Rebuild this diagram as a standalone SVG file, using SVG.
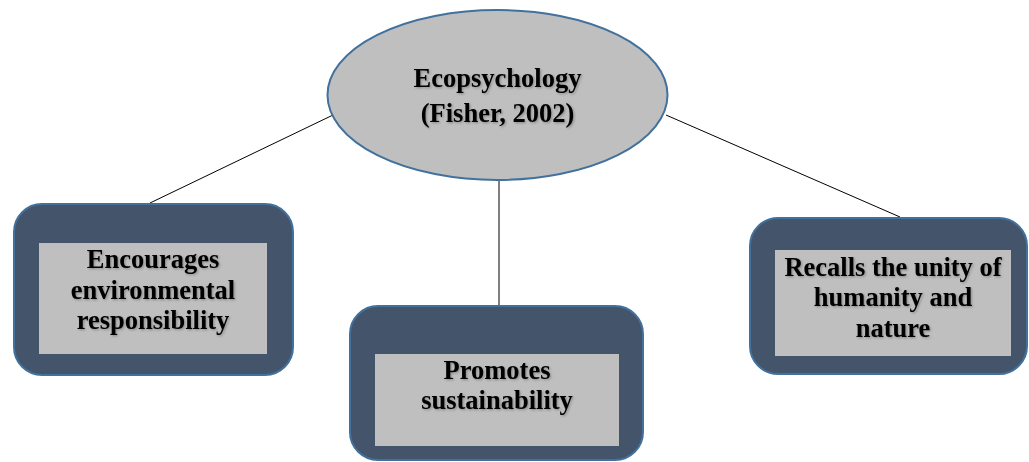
<svg xmlns="http://www.w3.org/2000/svg" width="1029" height="462" viewBox="0 0 1029 462">
  <defs>
    <filter id="txtShadow" x="-10%" y="-10%" width="120%" height="130%">
      <feDropShadow dx="1.2" dy="1.2" stdDeviation="0.8" flood-color="#000" flood-opacity="0.28"/>
    </filter>
  </defs>
  <style>
    .link { stroke: #000; stroke-width: 1; fill: none; }
    .outer { fill: #44546A; stroke: #41719C; stroke-width: 2; }
    .inner { fill: #BFBFBF; stroke: none; }
    .hub { fill: #BFBFBF; stroke: #41719C; stroke-width: 2; }
    .label { font-family: "Liberation Serif", "Times New Roman", serif; font-weight: bold; font-size: 26.5px; fill: #000; text-anchor: middle; filter: url(#txtShadow); }
  </style>
  <rect width="1029" height="462" fill="#fff"/>

  <!-- connectors from the hub to each branch -->
  <g id="connectors">
    <line class="link" x1="333" y1="115" x2="150" y2="203"/>
    <line class="link" x1="499" y1="180" x2="499" y2="305"/>
    <line class="link" x1="666" y1="115" x2="900" y2="217"/>
  </g>

  <g id="hub">
    <ellipse class="hub" cx="497.5" cy="95" rx="170" ry="85"/>
    <text class="label" x="497.5" y="87">Ecopsychology</text>
    <text class="label" x="497.5" y="122">(Fisher, 2002)</text>
  </g>

  <g id="responsibility">
    <rect class="outer" x="14" y="204" width="279" height="171" rx="28"/>
    <rect class="inner" x="39" y="243" width="228" height="111"/>
    <text class="label" x="153" y="268">Encourages</text>
    <text class="label" x="153" y="299">environmental</text>
    <text class="label" x="153" y="329">responsibility</text>
  </g>

  <g id="sustainability">
    <rect class="outer" x="350" y="306" width="293" height="154" rx="28"/>
    <rect class="inner" x="375" y="354" width="244" height="92"/>
    <text class="label" x="497" y="379">Promotes</text>
    <text class="label" x="497" y="409">sustainability</text>
  </g>

  <g id="unity">
    <rect class="outer" x="750" y="218" width="277" height="156" rx="28"/>
    <rect class="inner" x="775" y="250" width="236" height="106"/>
    <text class="label" x="893" y="276">Recalls the unity of</text>
    <text class="label" x="893" y="306">humanity and</text>
    <text class="label" x="893" y="337">nature</text>
  </g>
</svg>
